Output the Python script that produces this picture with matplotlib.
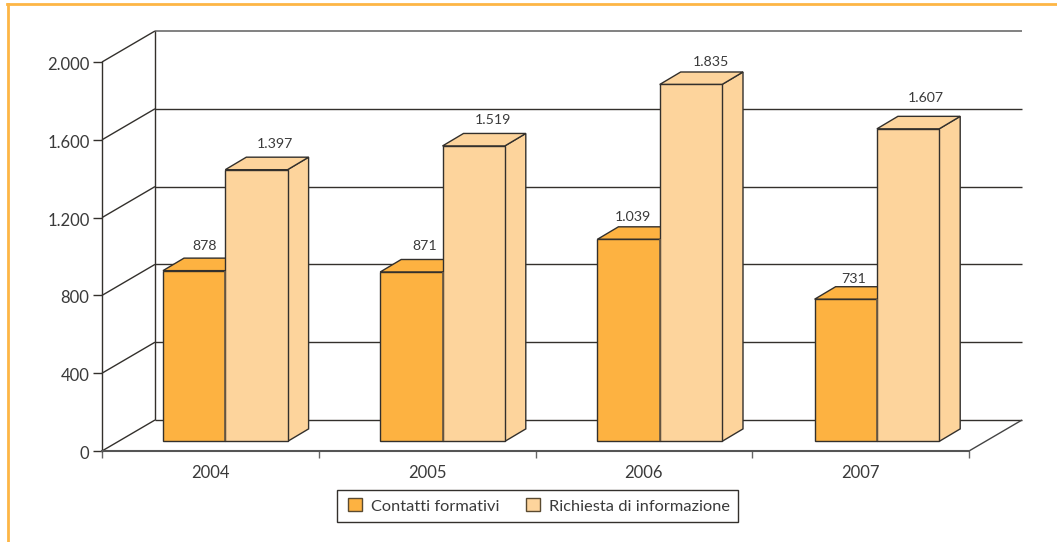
# pseudo-3D bar chart, contatti formativi / richiesta di informazione
import matplotlib
matplotlib.use('Agg')
import matplotlib.pyplot as plt
from matplotlib.patches import Polygon, Patch, Rectangle
from matplotlib.lines import Line2D
from matplotlib.transforms import ScaledTranslation

years = ['2004', '2005', '2006', '2007']
contatti = [878, 871, 1039, 731]
richieste = [1397, 1519, 1835, 1607]
y_ticks = [0, 400, 800, 1200, 1600, 2000]
y_labels = ['0', '400', '800', '1.200', '1.600', '2.000']
series_names = ['Contatti formativi', 'Richiesta di informazione']

# hand placed label offsets in px, the source does not keep them regular
nudge_contatti = [(10, 12), (13, 13), (4, 10), (8, 8)]
nudge_richieste = [(19, 13), (19, 13), (20, 10), (18, 18)]

ORANGE = '#FDB241'
LIGHT = '#FDD49C'
EDGE = '#33302c'
SEAM = '#6e5c45'
TEXT = '#3a3a3a'

plt.rcParams['font.family'] = ['Lato', 'DejaVu Sans']

W, H = 1057, 542
fig = plt.figure(figsize=(W / 100, H / 100), dpi=100, facecolor='white')
ax = fig.add_axes([102 / W, (H - 451) / H, 867 / W, 389 / H])
ax.set_xlim(0, 4)
ax.set_ylim(0, 2000)

# px to data units
ux = 4 / 867
uy = 2000 / 389

# wall depth
wall_dx = 53 * ux
wall_dy = 31 * uy
# bar depth and placement
bar_dx = 21 * ux
bar_dy = 12.5 * uy
bar_w = 62.3 * ux
bar_base = 9.6 * uy
bar_start = 61 * ux
pitch = 217.2 * ux


def line(xs, ys, color=EDGE, lw=1.0, z=1):
    ax.add_line(Line2D(xs, ys, color=color, lw=lw, clip_on=False, zorder=z,
                       solid_capstyle='butt'))


# back wall and side wall
for v in y_ticks:
    top = v == y_ticks[-1]
    line([wall_dx, 4 + wall_dx], [v + wall_dy, v + wall_dy], '#777777' if top else EDGE, 1.3 if top else 1.0)
    line([0, wall_dx], [v, v + wall_dy])
line([wall_dx, wall_dx], [wall_dy, 2000 + wall_dy])
line([4, 4 + wall_dx], [0, wall_dy], '#444444')


def bar3d(x, v, color, z):
    y0 = bar_base
    y1 = bar_base + v
    front = Polygon([(x, y0), (x + bar_w, y0), (x + bar_w, y1), (x, y1)], closed=True)
    side = Polygon([(x + bar_w, y0), (x + bar_w + bar_dx, y0 + bar_dy),
                    (x + bar_w + bar_dx, y1 + bar_dy), (x + bar_w, y1)], closed=True)
    roof = Polygon([(x, y1), (x + bar_w, y1), (x + bar_w + bar_dx, y1 + bar_dy),
                    (x + bar_dx, y1 + bar_dy)], closed=True)
    for p in (side, roof, front):
        p.set_facecolor(color)
        p.set_edgecolor(EDGE)
        p.set_linewidth(1.0)
        p.set_zorder(z)
        p.set_clip_on(False)
        ax.add_patch(p)


for i, year in enumerate(years):
    x0 = i * pitch + bar_start
    x1 = x0 + bar_w
    bar3d(x0, contatti[i], ORANGE, 2)
    bar3d(x1, richieste[i], LIGHT, 3)
    line([x1, x1], [bar_base, bar_base + contatti[i]], SEAM, 1.2, 4)
    for x, v, n in ((x0, contatti[i], nudge_contatti[i]), (x1, richieste[i], nudge_richieste[i])):
        ax.annotate(f'{v:,}'.replace(',', '.'),
                    xy=(x + bar_w / 2, bar_base + v + bar_dy),
                    xytext=n, textcoords='offset pixels',
                    ha='center', va='center', fontsize=10.2, color=TEXT, zorder=5,
                    annotation_clip=False)

# axes
ax.set_facecolor('none')
for s in ('top', 'right'):
    ax.spines[s].set_visible(False)
ax.spines['left'].set_color(EDGE)
ax.spines['left'].set_linewidth(1.0)
ax.spines['bottom'].set_color('#555555')
ax.spines['bottom'].set_linewidth(1.5)
ax.spines['bottom'].set_zorder(4)
ax.set_yticks(y_ticks)
ax.set_yticklabels(y_labels, fontsize=12, color=TEXT)
ax.tick_params(axis='y', length=6.5, width=1.0, color=EDGE, pad=2.5)
down = ScaledTranslation(0, -1.5 / 100, fig.dpi_scale_trans)
for t in ax.get_yticklabels():
    t.set_transform(t.get_transform() + down)
ax.set_xticks(range(5))
ax.set_xticklabels([''] * 5)
ax.tick_params(axis='x', length=5, width=1.0, color='#666666')
for i, year in enumerate(years):
    ax.annotate(year, xy=(i + 0.5, 0), xytext=(0, -22), textcoords='offset pixels',
                ha='center', va='center', fontsize=12, color=TEXT, annotation_clip=False)

# legend, frame drawn apart since its padding is not even
fig.add_artist(Rectangle((337 / W, (H - 522) / H), 401 / W, 32 / H, transform=fig.transFigure,
                         facecolor='white', edgecolor=EDGE, lw=1.0))
handles = [Patch(facecolor=ORANGE, edgecolor='#5a4a30', lw=1.0),
           Patch(facecolor=LIGHT, edgecolor='#5a4a30', lw=1.0)]
fig.legend(handles, series_names, ncol=2, loc='center',
           bbox_to_anchor=(539 / W, (H - 506) / H), fontsize=11.8,
           handlelength=0.85, handleheight=0.85, handletextpad=0.55, columnspacing=1.65,
           borderpad=0, borderaxespad=0, labelcolor=TEXT, frameon=False)

# orange page border
fig.add_artist(Line2D([8 / W, 8 / W], [0, (H - 4) / H], color='#FDB645', lw=2.0, transform=fig.transFigure))
fig.add_artist(Line2D([7 / W, 1], [(H - 4) / H, (H - 4) / H], color='#FDB645', lw=2.0, transform=fig.transFigure))

fig.savefig('out.png', dpi=100)
